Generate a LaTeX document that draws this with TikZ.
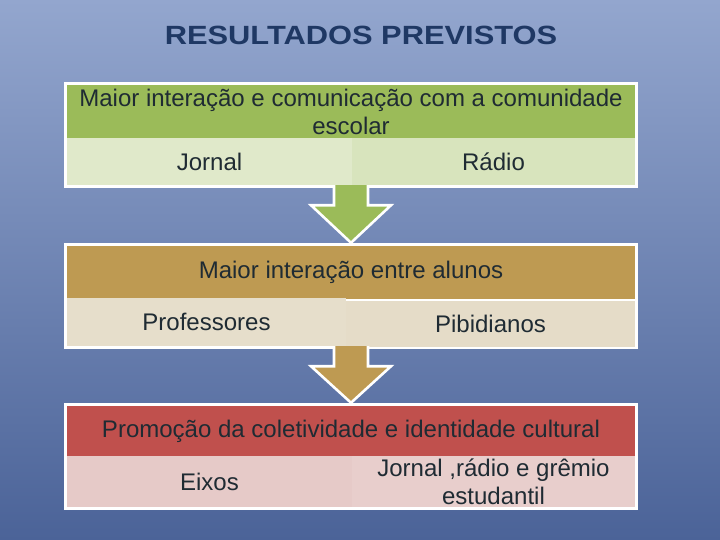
\documentclass[tikz,border=0pt]{standalone}
\usepackage{fontspec}
\setmainfont{Liberation Sans}
\usetikzlibrary{calc}

\definecolor{bgtop}{HTML}{93A6CE}
\definecolor{bgbot}{HTML}{4B6398}
\definecolor{titleblue}{HTML}{1F3864}
\definecolor{txtdark}{HTML}{1F2B33}
\definecolor{greenhead}{HTML}{9BBB59}
\definecolor{greencell}{HTML}{D8E4BD}
\definecolor{goldhead}{HTML}{BE9A52}
\definecolor{goldcell}{HTML}{E5DCC8}
\definecolor{redhead}{HTML}{C0504D}
\definecolor{redcell}{HTML}{E6CAC8}

\newcommand{\pxu}{0.03cm}

\tikzset{
    boxframe/.style={rectangle,fill=white,inner sep=0pt,minimum width=574*\pxu},
    header/.style={rectangle,fill=#1,inner sep=0pt,minimum width=568*\pxu,
        text=txtdark,align=center,font=\fontsize{20.5}{24}\selectfont},
    cell/.style={rectangle,fill=#1,inner sep=0pt,
        text=txtdark,align=center,font=\fontsize{20.5}{24}\selectfont},
    blockarrow/.style={fill=#1,draw=white,line width=2.2pt,line join=miter}
}

\begin{document}
\begin{tikzpicture}[x=0.03cm,y=-0.03cm]
    % Fundo
    \shade[top color=bgtop,bottom color=bgbot] (0,0) rectangle (720,540);

    % Titulo
    \node[font=\fontsize{22.5}{26}\selectfont\bfseries,text=titleblue] (title) at (361,35) {\scalebox{1.17}[1]{RESULTADOS PREVISTOS}};

    % Bloco 1
    \node[boxframe,minimum height=106*\pxu] (frame1) at (351,135) {};
    \node[header=greenhead,minimum height=53*\pxu] (head1) at (351,111.5) {Maior interação e comunicação com a comunidade\\escolar};
    \node[cell=greencell!80!white,minimum width=285*\pxu,minimum height=47*\pxu] (jornal) at (209.5,161.5) {Jornal};
    \node[cell=greencell,minimum width=283*\pxu,minimum height=47*\pxu] (radio) at (493.5,161.5) {Rádio};

    % Bloco 2
    \node[boxframe,minimum height=106*\pxu] (frame2) at (351,296) {};
    \node[header=goldhead,minimum height=53*\pxu] (head2) at (351,272.5) {Maior interação entre alunos};
    \node[cell=goldcell!95!white,minimum width=279*\pxu,minimum height=48*\pxu] (profs) at (206.5,322) {Professores};
    \node[cell=goldcell,minimum width=289*\pxu,minimum height=46*\pxu] (pibid) at (490.5,324) {Pibidianos};

    % Bloco 3
    \node[boxframe,minimum height=107*\pxu] (frame3) at (351,456.5) {};
    \node[header=redhead,minimum height=50*\pxu] (head3) at (351,431) {Promoção da coletividade e identidade cultural};
    \node[cell=redcell,minimum width=285*\pxu,minimum height=51*\pxu] (eixos) at (209.5,481.5) {Eixos};
    \node[cell=redcell!92!white,minimum width=283*\pxu,minimum height=51*\pxu] (meios) at (493.5,481.5) {Jornal ,rádio e grêmio\\estudantil};

    % Setas
    \draw[blockarrow=greenhead] ($(frame1.south)+(-17,-3)$) -- ($(frame1.south)+(-17,17)$)
        -- ($(frame1.south)+(-40,17)$) -- (frame2.north) -- ($(frame1.south)+(40,17)$)
        -- ($(frame1.south)+(17,17)$) -- ($(frame1.south)+(17,-3)$);
    \draw[blockarrow=goldhead] ($(frame2.south)+(-17,-3)$) -- ($(frame2.south)+(-17,17)$)
        -- ($(frame2.south)+(-40,17)$) -- (frame3.north) -- ($(frame2.south)+(40,17)$)
        -- ($(frame2.south)+(17,17)$) -- ($(frame2.south)+(17,-3)$);
\end{tikzpicture}
\end{document}
